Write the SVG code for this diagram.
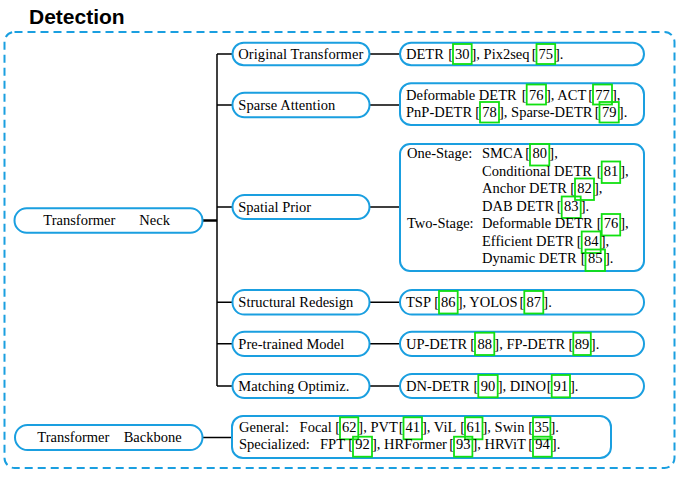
<svg xmlns="http://www.w3.org/2000/svg" width="685" height="477" viewBox="0 0 685 477">
<style>
.frame{fill:none;stroke:#1a9fe0;stroke-width:2;stroke-dasharray:8 5}
.box{fill:#fff;stroke:#1a9fe0;stroke-width:2}
.ln{fill:none;stroke:#000;stroke-width:1.5}
.g{fill:none;stroke:#11e011;stroke-width:1.8}
text{font-family:"Liberation Serif","Times New Roman",serif;font-size:14.5px;fill:#000}
.title{font-family:"Liberation Sans",Arial,sans-serif;font-size:21px;font-weight:bold}
.c{text-anchor:middle}
.e{text-anchor:end}
</style>
<rect x="0" y="0" width="685" height="477" fill="#fff"/>
<text class="title" x="29" y="24">Detection</text>
<rect class="frame" x="4.5" y="32" width="670" height="436" rx="10"/>

<g id="connectors">
  <path class="ln" d="M202.5 220.5H217" style="stroke-width:2.5"/>
  <path class="ln" d="M217 54V386"/>
  <path class="ln" d="M217 54H232.5M217 105H232.5M217 207H232.5M217 302.3H232.5M217 343.8H232.5M217 386H232.5"/>
  <path class="ln" d="M369.5 54H400M369.5 105H400M369.5 207H400M369.5 302.3H400M369.5 343.8H400M369.5 386H400"/>
  <path class="ln" d="M202.5 437.5H232"/>
</g>

<g id="neck">
  <rect class="box" x="14.5" y="208.3" width="188" height="24.4" rx="12.2"/>
  <text x="43.3" y="225.3">Transformer</text>
  <text x="139.3" y="225.3">Neck</text>
</g>
<g id="backbone">
  <rect class="box" x="15" y="425" width="187.5" height="25" rx="12.5"/>
  <text x="37.3" y="442">Transformer</text>
  <text x="123.7" y="442">Backbone</text>
</g>

<g id="cat-original">
  <rect class="box" x="232.5" y="42.7" width="137" height="22.5" rx="11.2"/>
  <text x="238.3" y="58.6" textLength="125" lengthAdjust="spacing">Original Transformer</text>
</g>
<g id="cat-sparse">
  <rect class="box" x="232.5" y="92.7" width="137" height="24.6" rx="12"/>
  <text x="238.3" y="109.6" textLength="97" lengthAdjust="spacing">Sparse Attention</text>
</g>
<g id="cat-spatial">
  <rect class="box" x="232.5" y="195" width="137" height="24" rx="12"/>
  <text x="238.3" y="211.8">Spatial Prior</text>
</g>
<g id="cat-structural">
  <rect class="box" x="232.5" y="290" width="137" height="24.6" rx="12"/>
  <text x="238.3" y="307" textLength="115" lengthAdjust="spacing">Structural Redesign</text>
</g>
<g id="cat-pretrained">
  <rect class="box" x="232.5" y="331.7" width="137" height="24.3" rx="12"/>
  <text x="238.3" y="348.5" textLength="106" lengthAdjust="spacing">Pre-trained Model</text>
</g>
<g id="cat-matching">
  <rect class="box" x="232.5" y="374" width="137" height="24" rx="12"/>
  <text x="238.3" y="390.7" textLength="111" lengthAdjust="spacing">Matching Optimiz.</text>
</g>

<g id="leaf-original">
  <rect class="box" x="400" y="42.7" width="244" height="22.5" rx="11.2"/>
  <text x="406" y="58.6">DETR</text>
  <text class="e" x="453" y="58.6">[</text>
  <rect class="g" x="453" y="44" width="18.7" height="20"/>
  <text class="c" x="462.3" y="58.6">30</text>
  <text x="471.5" y="58.6">], Pix2seq</text>
  <text class="e" x="536.5" y="58.6">[</text>
  <rect class="g" x="536.5" y="44" width="18.7" height="20"/>
  <text class="c" x="545.8" y="58.6">75</text>
  <text x="555" y="58.6">].</text>
</g>

<g id="leaf-sparse">
  <rect class="box" x="400" y="83.3" width="244" height="41.7" rx="11"/>
  <text x="406" y="99.5">Deformable DETR</text>
  <text class="e" x="526.7" y="99.5">[</text>
  <rect class="g" x="526.7" y="84.5" width="19.3" height="20"/>
  <text class="c" x="536.3" y="99.5">76</text>
  <text x="546" y="99.5">], ACT</text>
  <text class="e" x="593" y="99.5">[</text>
  <rect class="g" x="593" y="84.5" width="19" height="20"/>
  <text class="c" x="602.5" y="99.5">77</text>
  <text x="612" y="99.5">],</text>
  <text x="406" y="116.5">PnP-DETR</text>
  <text class="e" x="480" y="116.5">[</text>
  <rect class="g" x="480" y="102" width="19" height="20.5"/>
  <text class="c" x="489.5" y="116.5">78</text>
  <text x="499" y="116.5">], Sparse-DETR</text>
  <text class="e" x="599.5" y="116.5">[</text>
  <rect class="g" x="599.5" y="102" width="19.3" height="20.5"/>
  <text class="c" x="609.2" y="116.5">79</text>
  <text x="618.8" y="116.5">].</text>
</g>

<g id="leaf-spatial">
  <rect class="box" x="400" y="144" width="244" height="127" rx="10"/>
  <text x="407" y="158">One-Stage:</text>
  <text x="482" y="158">SMCA</text>
  <text class="e" x="530" y="158">[</text>
  <rect class="g" x="530" y="144" width="19.3" height="21.5"/>
  <text class="c" x="539.7" y="158">80</text>
  <text x="549.3" y="158">],</text>

  <text x="482" y="175.5">Conditional DETR</text>
  <text class="e" x="601.7" y="175.5">[</text>
  <rect class="g" x="601.7" y="161.5" width="18.5" height="21.5"/>
  <text class="c" x="611" y="175.5">81</text>
  <text x="620.2" y="175.5">],</text>

  <text x="482" y="193">Anchor DETR</text>
  <text class="e" x="575" y="193">[</text>
  <rect class="g" x="575" y="178.5" width="19" height="21.5"/>
  <text class="c" x="584.5" y="193">82</text>
  <text x="594" y="193">],</text>

  <text x="482" y="210.5">DAB DETR</text>
  <text class="e" x="561.7" y="210.5">[</text>
  <rect class="g" x="561.7" y="196.5" width="19" height="21.5"/>
  <text class="c" x="571.2" y="210.5">83</text>
  <text x="580.7" y="210.5">].</text>

  <text x="407" y="228">Two-Stage:</text>
  <text x="482" y="228">Deformable DETR</text>
  <text class="e" x="601.7" y="228">[</text>
  <rect class="g" x="601.7" y="214" width="18.5" height="21.5"/>
  <text class="c" x="611" y="228">76</text>
  <text x="620.2" y="228">],</text>

  <text x="482" y="245.5">Efficient DETR</text>
  <text class="e" x="581.7" y="245.5">[</text>
  <rect class="g" x="581.7" y="231.5" width="19" height="21.5"/>
  <text class="c" x="591.2" y="245.5">84</text>
  <text x="600.7" y="245.5">],</text>

  <text x="482" y="263">Dynamic DETR</text>
  <text class="e" x="585.5" y="263">[</text>
  <rect class="g" x="585.5" y="249.5" width="19.5" height="21.5"/>
  <text class="c" x="595.2" y="263">85</text>
  <text x="605" y="263">].</text>
</g>

<g id="leaf-structural">
  <rect class="box" x="400" y="290" width="244" height="24.6" rx="12"/>
  <text x="406" y="307">TSP</text>
  <text class="e" x="439" y="307">[</text>
  <rect class="g" x="439" y="291" width="18.7" height="22.5"/>
  <text class="c" x="448.3" y="307">86</text>
  <text x="457.7" y="307">], YOLOS</text>
  <text class="e" x="524.3" y="307">[</text>
  <rect class="g" x="524.3" y="291" width="19" height="22.5"/>
  <text class="c" x="533.8" y="307">87</text>
  <text x="543.3" y="307">].</text>
</g>

<g id="leaf-pretrained">
  <rect class="box" x="400" y="331.7" width="244" height="24.3" rx="12"/>
  <text x="406" y="348.5">UP-DETR</text>
  <text class="e" x="475" y="348.5">[</text>
  <rect class="g" x="475" y="332.7" width="19.3" height="22.3"/>
  <text class="c" x="484.7" y="348.5">88</text>
  <text x="494.3" y="348.5">], FP-DETR</text>
  <text class="e" x="573.3" y="348.5">[</text>
  <rect class="g" x="573.3" y="332.7" width="17.5" height="22.3"/>
  <text class="c" x="582" y="348.5">89</text>
  <text x="590.8" y="348.5">].</text>
</g>

<g id="leaf-matching">
  <rect class="box" x="400" y="374" width="244" height="24" rx="12"/>
  <text x="406" y="390.7">DN-DETR</text>
  <text class="e" x="478.3" y="390.7">[</text>
  <rect class="g" x="478.3" y="375" width="19.4" height="22.3"/>
  <text class="c" x="488" y="390.7">90</text>
  <text x="497.7" y="390.7">], DINO</text>
  <text class="e" x="551.7" y="390.7">[</text>
  <rect class="g" x="551.7" y="375" width="18.3" height="22.3"/>
  <text class="c" x="560.8" y="390.7">91</text>
  <text x="570" y="390.7">].</text>
</g>

<g id="leaf-backbone">
  <rect class="box" x="232" y="416" width="379" height="42" rx="11"/>
  <text x="239" y="431.7">General:</text>
  <text x="299.6" y="431.7">Focal</text>
  <text class="e" x="340" y="431.7">[</text>
  <rect class="g" x="340" y="417.3" width="18.3" height="22"/>
  <text class="c" x="349.2" y="431.7">62</text>
  <text x="358.3" y="431.7">], PVT</text>
  <text class="e" x="403.5" y="431.7">[</text>
  <rect class="g" x="403.5" y="417.3" width="18.5" height="22"/>
  <text class="c" x="412.8" y="431.7">41</text>
  <text x="422" y="431.7">], ViL</text>
  <text class="e" x="465" y="431.7">[</text>
  <rect class="g" x="465" y="417.3" width="17.5" height="22"/>
  <text class="c" x="473.8" y="431.7">61</text>
  <text x="482.5" y="431.7">], Swin</text>
  <text class="e" x="533" y="431.7">[</text>
  <rect class="g" x="533" y="417.3" width="17.4" height="22"/>
  <text class="c" x="541.7" y="431.7">35</text>
  <text x="550.4" y="431.7">].</text>

  <text x="239" y="449.3">Specialized:</text>
  <text x="320" y="449.3">FPT</text>
  <text class="e" x="353" y="449.3">[</text>
  <rect class="g" x="353" y="436.7" width="19" height="20"/>
  <text class="c" x="362.5" y="449.3">92</text>
  <text x="372" y="449.3">], HRFormer</text>
  <text class="e" x="454" y="449.3">[</text>
  <rect class="g" x="454" y="436.7" width="18.4" height="20"/>
  <text class="c" x="463.2" y="449.3">93</text>
  <text x="472.4" y="449.3">], HRViT</text>
  <text class="e" x="533" y="449.3">[</text>
  <rect class="g" x="533" y="436.7" width="18.8" height="20"/>
  <text class="c" x="542.4" y="449.3">94</text>
  <text x="551.8" y="449.3">].</text>
</g>
</svg>
